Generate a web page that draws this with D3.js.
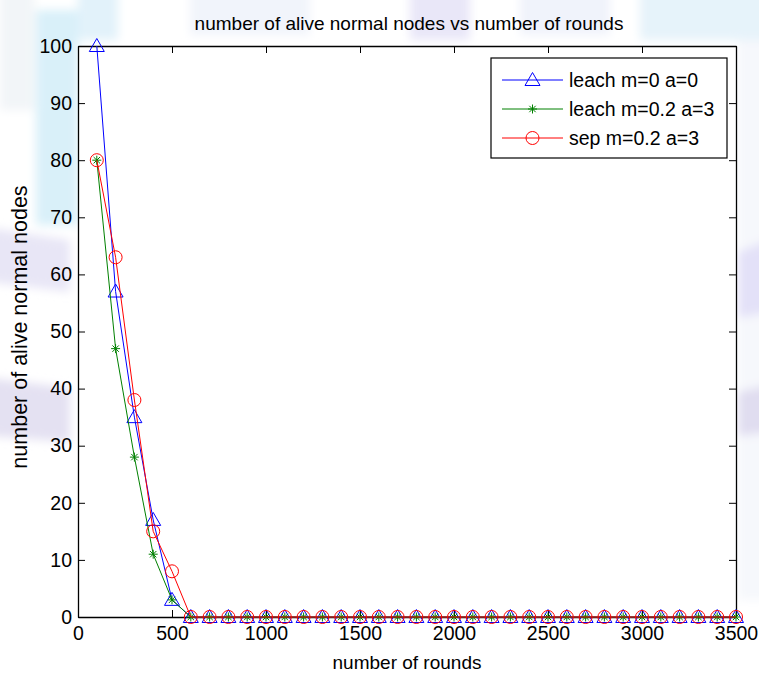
<!DOCTYPE html>
<html>
<head>
<meta charset="utf-8">
<script src="https://cdn.jsdelivr.net/npm/d3@7"></script>
<style>
  html, body { margin: 0; padding: 0; background: #ffffff; }
  svg { display: block; font-family: "Liberation Sans", Arial, sans-serif; }
</style>
</head>
<body>
<svg id="chart" width="759" height="680"></svg>
<script>
// ---- data ----
const rounds = [100, 200, 300, 400, 500, 600, 700, 800, 900, 1000,
  1100, 1200, 1300, 1400, 1500, 1600, 1700, 1800, 1900, 2000,
  2100, 2200, 2300, 2400, 2500, 2600, 2700, 2800, 2900, 3000,
  3100, 3200, 3300, 3400, 3500];
const leachM0A0 = [100, 57, 35, 17, 3, 0, 0, 0, 0, 0,
  0, 0, 0, 0, 0, 0, 0, 0, 0, 0,
  0, 0, 0, 0, 0, 0, 0, 0, 0, 0,
  0, 0, 0, 0, 0];
const leachM02A3 = [80, 47, 28, 11, 3, 0, 0, 0, 0, 0,
  0, 0, 0, 0, 0, 0, 0, 0, 0, 0,
  0, 0, 0, 0, 0, 0, 0, 0, 0, 0,
  0, 0, 0, 0, 0];
const sepM02A3 = [80, 63, 38, 15, 8, 0, 0, 0, 0, 0,
  0, 0, 0, 0, 0, 0, 0, 0, 0, 0,
  0, 0, 0, 0, 0, 0, 0, 0, 0, 0,
  0, 0, 0, 0, 0];
const seriesNames = ["leach m=0 a=0", "leach m=0.2 a=3", "sep m=0.2 a=3"];
const xTicks = [0, 500, 1000, 1500, 2000, 2500, 3000, 3500];
const yTicks = [0, 10, 20, 30, 40, 50, 60, 70, 80, 90, 100];
const titleText = "number of alive normal nodes vs number of rounds";
const xLabelText = "number of rounds";
const yLabelText = "number of alive normal nodes";

// ---- layout ----
const svg = d3.select("#chart");
const plot = { left: 78, right: 736, top: 46, bottom: 617 };
const FS = 19.5;

// faint watermark-like background (outside plot area)
const defs = svg.append("defs");
const blur = defs.append("filter").attr("id", "soft").attr("x", "-20%").attr("y", "-20%").attr("width", "140%").attr("height", "140%");
blur.append("feGaussianBlur").attr("stdDeviation", 5);
const bg = svg.append("g").attr("filter", "url(#soft)");
bg.append("rect").attr("x", 36).attr("y", 10).attr("width", 42).attr("height", 215).attr("fill", "#d9f0f9");
bg.append("rect").attr("x", 0).attr("y", -10).attr("width", 34).attr("height", 120).attr("fill", "#f2f5f8");
bg.append("rect").attr("x", 78).attr("y", -10).attr("width", 40).attr("height", 50).attr("fill", "#e2f2fa");
bg.append("rect").attr("x", 190).attr("y", -10).attr("width", 120).attr("height", 45).attr("fill", "#f1f4fb");
bg.append("rect").attr("x", 410).attr("y", -10).attr("width", 60).attr("height", 50).attr("fill", "#e9e7f8");
bg.append("rect").attr("x", 520).attr("y", -10).attr("width", 90).attr("height", 45).attr("fill", "#f0f3fb");
bg.append("rect").attr("x", 640).attr("y", -10).attr("width", 130).attr("height", 50).attr("fill", "#e6f3fa");
bg.append("rect").attr("x", 738).attr("y", 40).attr("width", 30).attr("height", 560).attr("fill", "#f6f8fc");
bg.append("path").attr("d", "M-10,228 L70,240 L70,292 L-10,282 Z").attr("fill", "#e8e6f6");
bg.append("path").attr("d", "M-10,378 L70,388 L70,442 L-10,436 Z").attr("fill", "#e4e1f2");
bg.append("path").attr("d", "M738,252 L770,240 L770,312 L738,318 Z").attr("fill", "#e3e1f8");
bg.append("path").attr("d", "M738,392 L770,385 L770,432 L738,436 Z").attr("fill", "#e0ddf0");

// scales
const x = d3.scaleLinear().domain([0, 3500]).range([plot.left, plot.right]);
const y = d3.scaleLinear().domain([0, 100]).range([plot.bottom, plot.top]);

// plot area
svg.append("rect")
  .attr("x", plot.left).attr("y", plot.top)
  .attr("width", plot.right - plot.left).attr("height", plot.bottom - plot.top)
  .attr("fill", "#ffffff");

// axes (MATLAB style box with inward ticks)
const tickLen = 7;
const axB = d3.axisBottom(x).tickValues(xTicks).tickSizeInner(-tickLen).tickSizeOuter(0).tickFormat(d3.format("d"));
const axT = d3.axisTop(x).tickValues(xTicks).tickSizeInner(-tickLen).tickSizeOuter(0).tickFormat("");
const axL = d3.axisLeft(y).tickValues(yTicks).tickSizeInner(-tickLen).tickSizeOuter(0).tickPadding(6).tickFormat(d3.format("d"));
const axR = d3.axisRight(y).tickValues(yTicks).tickSizeInner(-tickLen).tickSizeOuter(0).tickFormat("");

function styleAxis(g) {
  g.select(".domain").attr("stroke", "#000").attr("stroke-width", 1.3);
  g.selectAll(".tick line").attr("stroke", "#000").attr("stroke-width", 1);
  g.selectAll(".tick text").attr("fill", "#000").style("font-size", FS + "px")
    .style("font-family", "'Liberation Sans', Arial, sans-serif");
}
svg.append("g").attr("transform", `translate(0,${plot.bottom})`).call(axB).call(styleAxis)
  .selectAll(".tick text").attr("dy", "0.71em").attr("y", 9);
svg.append("g").attr("transform", `translate(0,${plot.top})`).call(axT).call(styleAxis);
svg.append("g").attr("transform", `translate(${plot.left},0)`).call(axL).call(styleAxis);
svg.append("g").attr("transform", `translate(${plot.right},0)`).call(axR).call(styleAxis);

// series
const series = [
  { name: seriesNames[0], values: leachM0A0, color: "#0000ff", marker: "triangle" },
  { name: seriesNames[1], values: leachM02A3, color: "#008000", marker: "star" },
  { name: seriesNames[2], values: sepM02A3, color: "#ff0000", marker: "circle" }
];

function drawMarker(g, type, color) {
  if (type === "triangle") {
    g.append("path").attr("d", "M0,-7.5 L7.5,5.5 L-7.5,5.5 Z")
      .attr("fill", "none").attr("stroke", color).attr("stroke-width", 1);
  } else if (type === "circle") {
    g.append("circle").attr("r", 6.5).attr("fill", "none").attr("stroke", color).attr("stroke-width", 1);
  } else {
    const s = 4.5, d = 3.2;
    g.append("path").attr("d", `M0,${-s} L0,${s} M${-s},0 L${s},0 M${-d},${-d} L${d},${d} M${-d},${d} L${d},${-d}`)
      .attr("fill", "none").attr("stroke", color).attr("stroke-width", 1);
  }
}

const line = d3.line().x(d => x(d[0])).y(d => y(d[1]));
series.forEach(s => {
  const pts = rounds.map((r, i) => [r, s.values[i]]);
  const g = svg.append("g");
  g.append("path").datum(pts).attr("d", line)
    .attr("fill", "none").attr("stroke", s.color).attr("stroke-width", 1);
  pts.forEach(p => {
    const m = g.append("g").attr("transform", `translate(${x(p[0])},${y(p[1])})`);
    drawMarker(m, s.marker, s.color);
  });
});

// legend
const lg = svg.append("g");
lg.append("rect").attr("x", 491).attr("y", 58).attr("width", 236).attr("height", 100)
  .attr("fill", "#ffffff").attr("stroke", "#000").attr("stroke-width", 1.2);
series.forEach((s, i) => {
  const cy = 80 + i * 29;
  lg.append("line").attr("x1", 502).attr("x2", 563).attr("y1", cy).attr("y2", cy)
    .attr("stroke", s.color).attr("stroke-width", 1);
  const m = lg.append("g").attr("transform", `translate(532.5,${cy})`);
  drawMarker(m, s.marker, s.color);
  lg.append("text").attr("x", 569).attr("y", cy).attr("dy", "0.36em")
    .style("font-size", FS + "px").attr("fill", "#000").text(s.name);
});

// title and labels
svg.append("text").attr("x", (plot.left + plot.right) / 2 + 2).attr("y", 30)
  .attr("text-anchor", "middle").style("font-size", "19px").attr("fill", "#000").text(titleText);
svg.append("text").attr("x", (plot.left + plot.right) / 2).attr("y", 669)
  .attr("text-anchor", "middle").style("font-size", "19px").attr("fill", "#000").text(xLabelText);
svg.append("text").attr("transform", `translate(27,327) rotate(-90)`)
  .attr("text-anchor", "middle").style("font-size", "21.5px").attr("fill", "#000").text(yLabelText);
</script>
</body>
</html>
